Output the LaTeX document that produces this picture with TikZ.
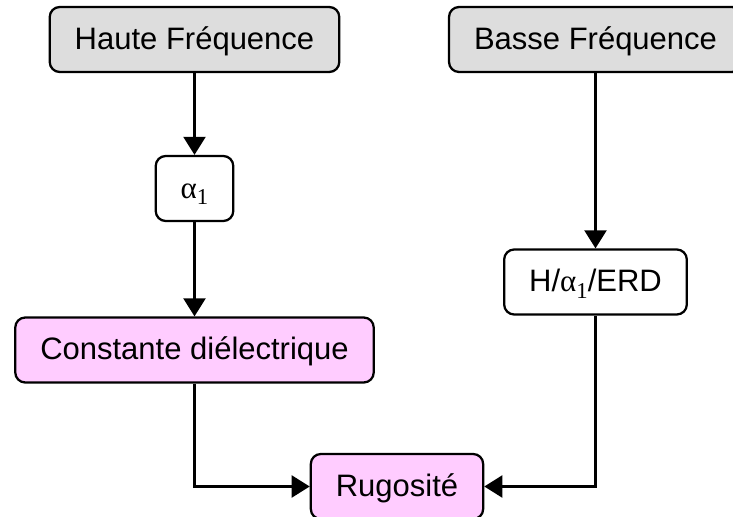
\documentclass[tikz,border=0pt]{standalone}
\usepackage{fontspec}
\setmainfont{Liberation Sans}
\newfontfamily\greekfont{Liberation Serif}
\usepackage{tikz}
\usetikzlibrary{arrows.meta}
\definecolor{FreqGrey}  {HTML}{DDDDDD}
\definecolor{ResultPink}{HTML}{FFCCFF}
\definecolor{LineBlack} {HTML}{000000}
\newcommand{\alphaone}{{\greekfont α\raisebox{-0.22em}{\fontsize{17}{20}\selectfont 1}}}
\tikzset{
  box/.style={draw=LineBlack,line width=1.7pt,rounded corners=7.5pt,
              minimum height=48.75pt,inner xsep=18.75pt,inner ysep=0pt,
              font=\fontsize{23.25}{28}\selectfont,
              text height=17.4pt,text depth=3pt},
  freqbox/.style={box,fill=FreqGrey},
  resultbox/.style={box,fill=ResultPink},
  flow/.style={draw=LineBlack,line width=1.6pt,
               -{Triangle[length=13.5pt,width=16.5pt]}}
}
\begin{document}
\begin{tikzpicture}[x=0.75pt,y=-0.75pt]
  \useasboundingbox (0,0) rectangle (733,517);
  \node[freqbox]   (haute)     at (194.5,39.5) {Haute Fréquence};
  \node[freqbox]   (basse)     at (595.5,39.5) {Basse Fréquence};
  \node[box]       (alpha)     at (194.5,188.5) {\alphaone};
  \node[box]       (herd)      at (595.5,282)  {H/\alphaone/ERD};
  \node[resultbox] (constante) at (194.5,350)  {Constante diélectrique};
  \node[resultbox] (rugo)      at (397,486.5)  {Rugosité};
  \draw[flow] (haute) -- (alpha);
  \draw[flow] (alpha) -- (constante);
  \draw[flow] (basse) -- (herd);
  \draw[flow] (constante) |- (rugo);
  \draw[flow] (herd) |- (rugo);
\end{tikzpicture}
\end{document}
